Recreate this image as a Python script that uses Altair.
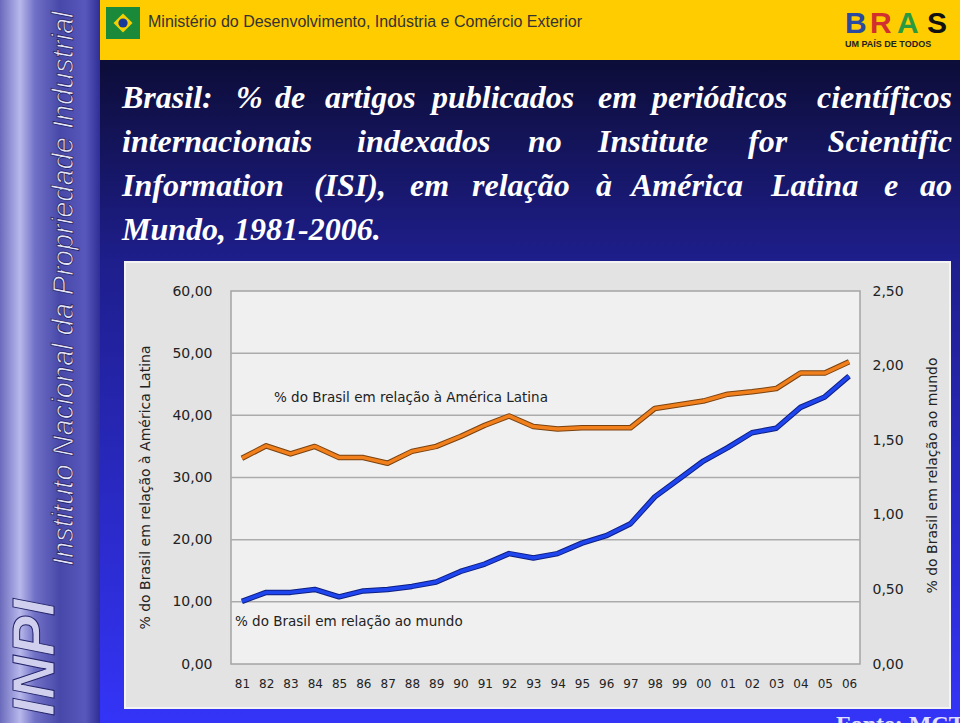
import altair as alt
import pandas as pd

# ---------------- data ----------------
anos = ["81", "82", "83", "84", "85", "86", "87", "88", "89", "90", "91", "92", "93",
        "94", "95", "96", "97", "98", "99", "00", "01", "02", "03", "04", "05", "06"]
latam = [33.1, 35.1, 33.8, 35.0, 33.2, 33.2, 32.3, 34.2, 35.0, 36.6, 38.4, 39.9, 38.2,
         37.8, 38.0, 38.0, 38.0, 41.1, 41.7, 42.3, 43.4, 43.8, 44.3, 46.8, 46.8, 48.6]
mundo = [0.42, 0.48, 0.48, 0.50, 0.45, 0.49, 0.50, 0.52, 0.55, 0.62, 0.67, 0.74, 0.71,
         0.74, 0.81, 0.86, 0.94, 1.12, 1.24, 1.36, 1.45, 1.55, 1.58, 1.72, 1.79, 1.93]
left_ticks = [0, 10, 20, 30, 40, 50, 60]
right_ticks = [0, 0.5, 1.0, 1.5, 2.0, 2.5]
grid_vals = [10, 20, 30, 40, 50]

df = pd.DataFrame({"ano": anos, "latam": latam, "mundo": mundo})
grid_df = pd.DataFrame({"g": grid_vals})

# ---------------- layout ----------------
PL, PT, W, H = 231, 291, 629, 373
PR, PB = 960 - PL - W, 723 - PT - H
one = alt.Data(values=[{"k": 1}])
FONT = "DejaVu Sans"


def rect(x0, y0, x1, y1, **kw):
    return alt.Chart(one).mark_rect(**kw).encode(
        x=alt.value(x0 - PL), x2=alt.value(x1 - PL),
        y=alt.value(y0 - PT), y2=alt.value(y1 - PT))


def txt(s, x, y, **kw):
    return alt.Chart(one).mark_text(text=s, **kw).encode(
        x=alt.value(x - PL), y=alt.value(y - PT))


def pt(x, y, **kw):
    return alt.Chart(one).mark_point(**kw).encode(
        x=alt.value(x - PL), y=alt.value(y - PT))


layers = []

# slide background
layers.append(rect(0, 0, 960, 723, fill=alt.LinearGradient(
    gradient="linear", x1=0, x2=0, y1=0, y2=1,
    stops=[alt.GradientStop(color="#0c0c36", offset=0.0),
           alt.GradientStop(color="#0d0d3a", offset=0.09),
           alt.GradientStop(color="#1e1e8c", offset=0.36),
           alt.GradientStop(color="#3434f8", offset=1.0)])))

# left strip
layers.append(rect(0, 0, 100, 723, fill=alt.LinearGradient(
    gradient="linear", x1=0, x2=1, y1=0, y2=0,
    stops=[alt.GradientStop(color="#6a6abc", offset=0.0),
           alt.GradientStop(color="#b8b8ec", offset=0.2),
           alt.GradientStop(color="#7070c6", offset=0.35),
           alt.GradientStop(color="#4848aa", offset=0.6),
           alt.GradientStop(color="#5858bc", offset=0.85),
           alt.GradientStop(color="#2e2e96", offset=1.0)])))
layers.append(txt("Instituto Nacional da Propriedade Industrial", 64, 566, angle=270,
                  align="left", baseline="middle", font="Liberation Sans", fontStyle="italic",
                  fontSize=29, fill="#e4e4f6", stroke="#22226a", strokeWidth=0.8))
layers.append(txt("INPI", 54, 716, angle=270, align="left", baseline="alphabetic",
                  font="Liberation Sans", fontStyle="italic", fontWeight="bold",
                  fontSize=60, fill="#d0d0ee", stroke="#22226a", strokeWidth=1))

# top banner
layers.append(rect(100, 0, 960, 60, fill="#ffcc00"))
layers.append(rect(106, 7, 140, 39, fill="#1a8a3a"))
layers.append(pt(123, 23, shape="diamond", filled=True, size=360, color="#f5d000", opacity=1))
layers.append(pt(123, 23, shape="circle", filled=True, size=85, color="#1a3a9a", opacity=1))
layers.append(txt("Ministério do Desenvolvimento, Indústria e Comércio Exterior", 148, 22,
                  align="left", baseline="middle", font="Liberation Sans", fontSize=16,
                  color="#333333"))
for letter, lx, col in [("B", 845, "#2a4aa0"), ("R", 870, "#d03030"),
                        ("A", 897, "#2a9a40"), ("S", 927, "#111111")]:
    layers.append(txt(letter, lx, 33, align="left", baseline="alphabetic",
                      font="Liberation Sans", fontWeight="bold", fontSize=30, color=col))
layers.append(txt("UM PAÍS DE TODOS", 845, 44, align="left", baseline="middle",
                  font="Liberation Sans", fontWeight="bold", fontSize=9, color="#222222"))

# slide title (justified words)
title_words = [
    [("Brasil:", 122, "left"), ("%", 236, "left"), ("de", 275, "left"), ("artigos", 325, "left"),
     ("publicados", 432, "left"), ("em", 598, "left"), ("periódicos", 652, "left"),
     ("científicos", 952, "right")],
    [("internacionais", 122, "left"), ("indexados", 357, "left"), ("no", 528, "left"),
     ("Institute", 598, "left"), ("for", 748, "left"), ("Scientific", 952, "right")],
    [("Information", 122, "left"), ("(ISI),", 314, "left"), ("em", 410, "left"),
     ("relação", 472, "left"), ("à", 596, "left"), ("América", 631, "left"),
     ("Latina", 771, "left"), ("e", 884, "left"), ("ao", 952, "right")],
    [("Mundo, 1981-2006.", 122, "left")],
]
baselines = [108, 152, 196, 240]
for words, by in zip(title_words, baselines):
    for w, wx, al in words:
        layers.append(txt(w, wx, by, align=al, baseline="alphabetic", font="Liberation Serif",
                          fontStyle="italic", fontWeight="bold", fontSize=32, color="#ffffff"))

# footer (cut at the slide's lower edge, as in the reference)
layers.append(txt("Fonte: MCT", 836, 713, align="left", baseline="top", font="Liberation Serif",
                  fontWeight="bold", fontSize=24, color="#e0e0ff"))

# chart panel & plot area
layers.append(rect(125, 262, 950, 708, fill="#e3e3e3", stroke="#f4f4f4", strokeWidth=2))
layers.append(rect(PL, PT, PL + W, PT + H, fill="#f0f0f0", stroke="#a4a4a4", strokeWidth=1.5))

# gridlines
layers.append(alt.Chart(grid_df).mark_rule(color="#ababab", strokeWidth=1.5).encode(
    y=alt.Y("g:Q", scale=alt.Scale(domain=[0, 60], nice=False, zero=True), axis=None)))

label_expr = "replace(format(datum.value, '.2f'), '.', ',')"
x_enc = alt.X("ano:N", sort=anos, scale=alt.Scale(type="point", padding=0.45),
              axis=alt.Axis(title=None, labelAngle=0, labelFont=FONT, labelFontSize=12,
                            labelColor="#222222", labelPadding=14, ticks=False, domain=False,
                            grid=False, zindex=1))
left_scale = alt.Scale(domain=[0, 60], nice=False, zero=True)
right_scale = alt.Scale(domain=[0, 2.5], nice=False, zero=True)

left_axis = alt.Axis(orient="left", values=left_ticks, labelExpr=label_expr, ticks=False,
                     domain=False, grid=False, labelPadding=19, labelFont=FONT,
                     labelFontSize=14, labelColor="#222222",
                     title="% do Brasil em relação à América Latina", titleFont=FONT,
                     titleFontSize=14, titleFontWeight="normal", titleColor="#222222",
                     titleAngle=270, titleX=-86, titleY=196, titleAlign="center",
                     titleBaseline="middle", zindex=1)
right_axis = alt.Axis(orient="right", values=right_ticks, labelExpr=label_expr, ticks=False,
                      domain=False, grid=False, labelPadding=12, labelFont=FONT,
                      labelFontSize=14, labelColor="#222222", labelAlign="left",
                      title="% do Brasil em relação ao mundo", titleFont=FONT,
                      titleFontSize=14, titleFontWeight="normal", titleColor="#222222",
                      titleAngle=270, titleX=72, titleY=184, titleAlign="center",
                      titleBaseline="middle", zindex=1)

# lines (shadow + main)
layers.append(alt.Chart(df).mark_line(color="#7a4210", strokeWidth=5.5, strokeJoin="round").encode(
    x=x_enc, y=alt.Y("latam:Q", scale=left_scale, axis=None)))
layers.append(alt.Chart(df).mark_line(color="#f07f1c", strokeWidth=3.5, strokeJoin="round").encode(
    x=x_enc, y=alt.Y("latam:Q", scale=left_scale, axis=left_axis)))
layers.append(alt.Chart(df).mark_line(color="#0e1e80", strokeWidth=5.5, strokeJoin="round").encode(
    x=x_enc, y=alt.Y("mundo:Q", scale=right_scale, axis=None)))
layers.append(alt.Chart(df).mark_line(color="#1f46ee", strokeWidth=3.5, strokeJoin="round").encode(
    x=x_enc, y=alt.Y("mundo:Q", scale=right_scale, axis=right_axis)))

# in-chart annotations
layers.append(txt("% do Brasil em relação à América Latina", 274, 398, align="left",
                  baseline="middle", font=FONT, fontSize=13.5, color="#222222"))
layers.append(txt("% do Brasil em relação ao mundo", 235, 622, align="left",
                  baseline="middle", font=FONT, fontSize=13.5, color="#222222"))

chart = alt.layer(*layers).resolve_scale(y="independent").properties(
    width=W, height=H, autosize="none",
    padding={"left": PL, "top": PT, "right": PR, "bottom": PB},
    background="#1a1a6a",
).configure_view(strokeWidth=0)

chart.save("out.html", embed_options={"renderer": "svg", "actions": False})
